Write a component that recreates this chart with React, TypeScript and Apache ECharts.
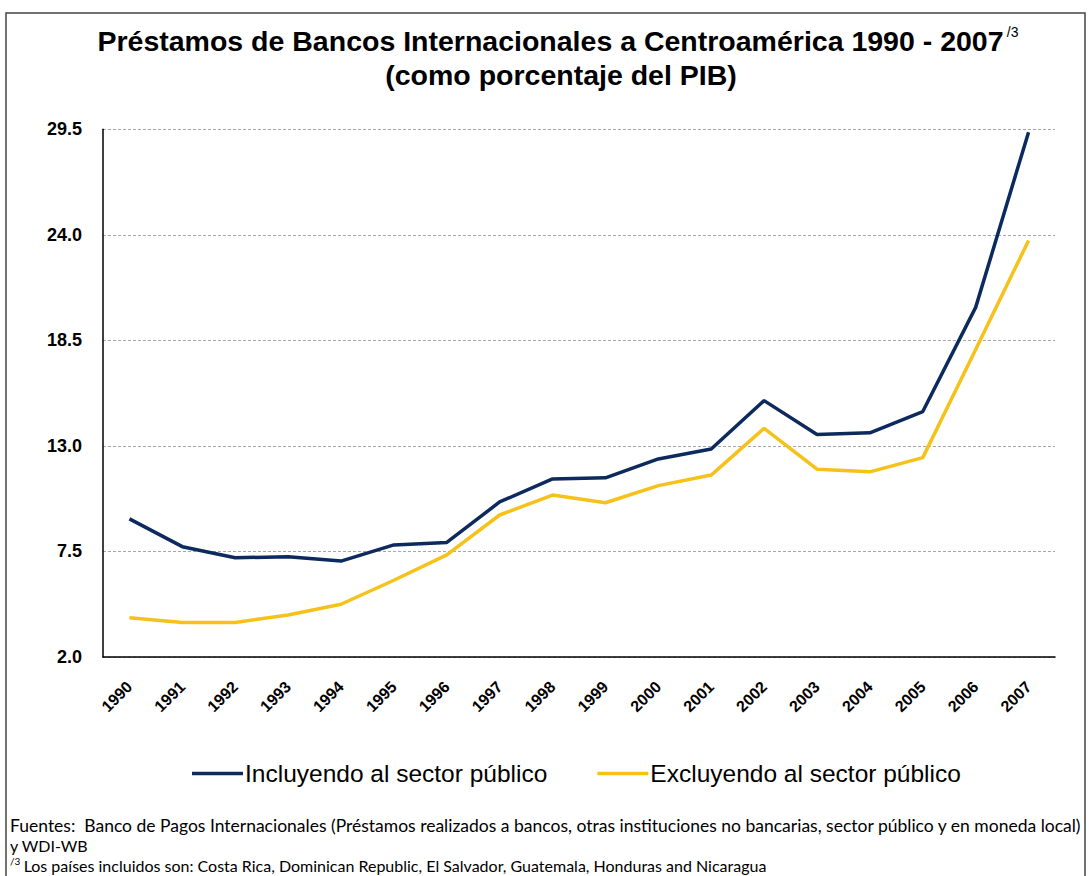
import React, { useEffect, useRef } from "react";
import * as echarts from "echarts";

const years = ["1990","1991","1992","1993","1994","1995","1996","1997","1998","1999","2000","2001","2002","2003","2004","2005","2006","2007"];
const incluyendo = [9.2, 7.75, 7.17, 7.23, 7.0, 7.84, 7.97, 10.08, 11.28, 11.34, 12.32, 12.84, 15.36, 13.6, 13.68, 14.79, 20.22, 29.35];
const excluyendo = [4.05, 3.8, 3.8, 4.19, 4.75, 6.0, 7.32, 9.4, 10.44, 10.04, 10.93, 11.48, 13.92, 11.79, 11.65, 12.39, 18.02, 23.7];
const seriesNames = ["Incluyendo al sector público", "Excluyendo al sector público"];
const titleLine1 = "Préstamos de Bancos Internacionales a Centroamérica 1990 - 2007";
const titleLine2 = "(como porcentaje del PIB)";
const footLine1 = "Fuentes:  Banco de Pagos Internacionales (Préstamos realizados a bancos, otras instituciones no bancarias, sector público y en moneda local)";
const footLine2 = "y WDI-WB";
const footLine3 = "Los países incluidos son: Costa Rica, Dominican Republic, El Salvador, Guatemala, Honduras and Nicaragua";

const NAVY = "#0c2a5e";
const GOLD = "#f6c21a";
const SANS = "'Liberation Sans', Arial, sans-serif";
const FOOT = "Lato, sans-serif";

export default function App() {
  const ref = useRef<HTMLDivElement>(null);
  useEffect(() => {
    if (!ref.current) return;
    const chart = echarts.init(ref.current, null, { renderer: "svg" });
    chart.setOption({
      animation: false,
      backgroundColor: "#ffffff",
      grid: { left: 103, top: 129.3, width: 952, height: 527.7, containLabel: false },
      xAxis: {
        type: "category",
        data: years,
        boundaryGap: true,
        axisLine: { show: true, lineStyle: { color: "#000", width: 1.5 } },
        axisTick: { show: false },
        axisLabel: {
          rotate: 45,
          margin: 27,
          interval: 0,
          fontFamily: SANS,
          fontWeight: "bold",
          fontSize: 16,
          color: "#000",
        },
        splitLine: { show: false },
      },
      yAxis: {
        type: "value",
        min: 2,
        max: 29.5,
        interval: 5.5,
        axisLine: { show: true, lineStyle: { color: "#000", width: 1.5 } },
        axisTick: { show: false },
        axisLabel: {
          margin: 21,
          fontFamily: SANS,
          fontWeight: "bold",
          fontSize: 18,
          color: "#000",
          formatter: (v: number) => v.toFixed(1),
        },
        splitLine: { show: true, lineStyle: { color: "#a8a8a8", type: [3, 2], width: 1 } },
      },
      legend: {
        left: 187,
        top: 756,
        itemWidth: 51,
        itemHeight: 3.5,
        itemGap: 50,
        icon: "rect",
        textStyle: { fontFamily: SANS, fontSize: 24.5, color: "#000", padding: [0, 0, 0, -3] },
        data: seriesNames,
      },
      series: [
        {
          name: seriesNames[0],
          type: "line",
          data: incluyendo,
          symbol: "none",
          lineStyle: { color: NAVY, width: 3.5 },
          itemStyle: { color: NAVY },
        },
        {
          name: seriesNames[1],
          type: "line",
          data: excluyendo,
          symbol: "none",
          lineStyle: { color: GOLD, width: 3.5 },
          itemStyle: { color: GOLD },
        },
      ],
      graphic: [
        {
          type: "rect",
          shape: { x: 6, y: 13, width: 1079, height: 900 },
          style: { fill: "none", stroke: "#444", lineWidth: 1.5 },
          silent: true,
        },
        {
          type: "text",
          x: 558,
          y: 41,
          style: {
            text: `{t|${titleLine1}} {s|/3}`,
            align: "center",
            verticalAlign: "middle",
            textAlign: "center",
            textVerticalAlign: "middle",
            rich: {
              t: { fontFamily: SANS, fontWeight: "bold", fontSize: 28.5, fill: "#000", lineHeight: 32 },
              s: { fontFamily: SANS, fontSize: 14, fill: "#000", verticalAlign: "top", lineHeight: 32 },
            },
          },
        },
        {
          type: "text",
          x: 561,
          y: 75,
          style: {
            text: titleLine2,
            align: "center",
            verticalAlign: "middle",
            textAlign: "center",
            textVerticalAlign: "middle",
            fontFamily: SANS,
            fontWeight: "bold",
            fontSize: 28.5,
            fill: "#000",
          },
        },
        {
          type: "text",
          x: 10,
          y: 825,
          style: {
            text: footLine1,
            verticalAlign: "middle",
            textVerticalAlign: "middle",
            fontFamily: FOOT,
            fontSize: 17.5,
            fill: "#000",
          },
        },
        {
          type: "text",
          x: 10,
          y: 845,
          style: {
            text: footLine2,
            verticalAlign: "middle",
            textVerticalAlign: "middle",
            fontFamily: FOOT,
            fontSize: 16,
            fill: "#000",
          },
        },
        {
          type: "text",
          x: 10,
          y: 865,
          style: {
            text: `{s|/3} {f|${footLine3}}`,
            verticalAlign: "middle",
            textVerticalAlign: "middle",
            rich: {
              s: { fontFamily: FOOT, fontSize: 10, fill: "#000", verticalAlign: "top", lineHeight: 18 },
              f: { fontFamily: FOOT, fontSize: 16, fill: "#000", lineHeight: 18 },
            },
          },
        },
      ],
    });
    return () => chart.dispose();
  }, []);
  return (
    <div
      ref={ref}
      style={{ position: "absolute", left: 0, top: 0, width: 1089, height: 876 }}
    />
  );
}
